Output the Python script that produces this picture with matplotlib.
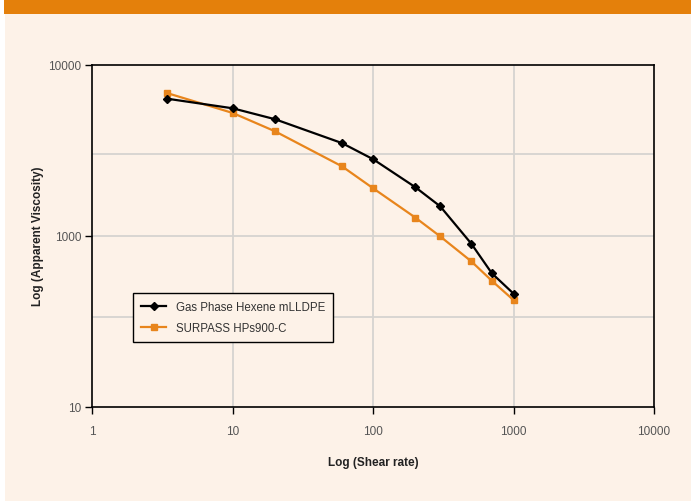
import numpy as np
import matplotlib
matplotlib.use('Agg')
import matplotlib.pyplot as plt
from matplotlib.patches import Rectangle

plt.rcParams['font.family'] = ['Liberation Sans', 'DejaVu Sans']

# data
shear = [3.4, 10, 20, 60, 100, 200, 300, 500, 700, 1000]
visc_mlldpe = [6330, 5560, 4800, 3480, 2800, 1920, 1486, 898, 603, 458]
visc_surpass = [6830, 5220, 4080, 2545, 1893, 1275, 991, 708, 545, 420]

name_mlldpe = 'Gas Phase Hexene mLLDPE'
name_surpass = 'SURPASS HPs900-C'

xticks = [1, 10, 100, 1000, 10000]
xticklabels = ['1', '10', '100', '1000', '10000']
yticks = [100, 1000, 10000]
yticklabels = ['10', '1000', '10000']   # as printed on the original
ygrid = [333, 1000, 3000]

bg = '#FDF2E8'
orange = '#E4800B'
line_orange = '#E8851C'

fig = plt.figure(figsize=(6.91, 5.02), dpi=100)
fig.patch.set_facecolor('white')
# cream panel + top band
fig.patches.append(Rectangle((5/691, 0), 1, 1, transform=fig.transFigure,
                             facecolor=bg, edgecolor='none', zorder=-2))
fig.patches.append(Rectangle((4/691, 1-15/502), 1, 15/502, transform=fig.transFigure,
                             facecolor=orange, edgecolor='none', zorder=-1))

ax = fig.add_axes([0.1336, 0.1878, 0.8129, 0.6813])
ax.set_facecolor(bg)
ax.set_xscale('log')
ax.set_yscale('log')
ax.set_xlim(1, 10000)
ax.set_ylim(100, 10000)

for g in [10, 100, 1000]:
    ax.axvline(g, color='#D6D3D0', lw=1.3, zorder=0)
for g in ygrid:
    ax.axhline(g, color='#D6D3D0', lw=1.3, zorder=0)

ax.plot(shear, visc_mlldpe, color='black', lw=1.6, marker='D', ms=4.5,
        label=name_mlldpe, zorder=3)
ax.plot(shear, visc_surpass, color=line_orange, lw=1.6, marker='s', ms=4,
        label=name_surpass, zorder=2)

ax.xaxis.set_minor_locator(matplotlib.ticker.NullLocator())
ax.yaxis.set_minor_locator(matplotlib.ticker.NullLocator())
ax.set_xticks(xticks)
ax.set_xticklabels(xticklabels)
ax.set_yticks(yticks)
ax.set_yticklabels(yticklabels)
ax.tick_params(axis='both', direction='out', length=5, width=1, color='black',
               labelsize=8.5, labelcolor='#555555')
ax.tick_params(axis='x', pad=8)
ax.tick_params(axis='y', pad=3)

for s in ax.spines.values():
    s.set_color('black')
    s.set_linewidth(1.2)

ax.set_xlabel('Log (Shear rate)', fontsize=8.5, fontweight='bold', color='#222222', labelpad=14)
ax.set_ylabel('Log (Apparent Viscosity)', fontsize=8.5, fontweight='bold', color='#222222', labelpad=3)

leg = ax.legend(loc='lower left', bbox_to_anchor=(0.062, 0.172), fontsize=8.3,
                frameon=True, fancybox=False, edgecolor='black', facecolor=bg,
                framealpha=1, handlelength=2.2, borderpad=0.7, labelspacing=0.8)
leg.get_frame().set_linewidth(1)
for t in leg.get_texts():
    t.set_color('#333333')

fig.savefig('out.png', dpi=100, facecolor=fig.get_facecolor())
